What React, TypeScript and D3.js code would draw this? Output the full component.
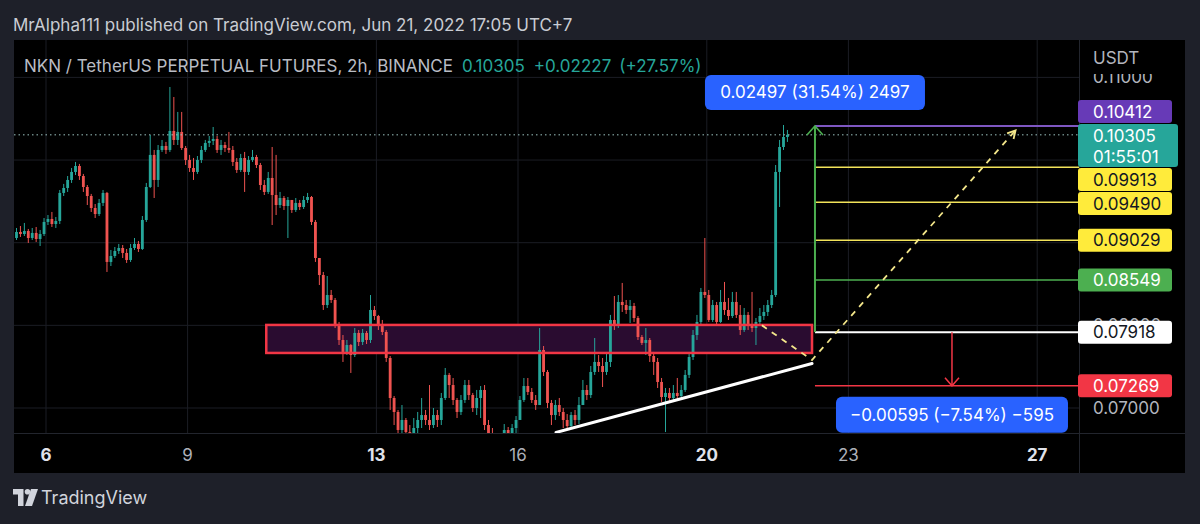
import React from "react";
import * as d3 from "d3";

// ---------------- texts ----------------
const publishLine = "MrAlpha111 published on TradingView.com, Jun 21, 2022 17:05 UTC+7";
const symbolLine = "NKN / TetherUS PERPETUAL FUTURES, 2h, BINANCE";
const quoteValues = ["0.10305", "+0.02227", "(+27.57%)"];
const currency = "USDT";
const countdown = "01:55:01";
const brand = "TradingView";

// ---------------- candles (2h bars, UTC+7 wall time) ----------------
const firstBarTime = "2022-06-05 09:00";
const barHours = 2;
const firstOpen = 0.09057;
const closes = [
  0.0913, 0.09105, 0.09142, 0.09057, 0.09118, 0.09045, 0.09105, 0.09251, 0.09287, 0.09226,
  0.09263, 0.09602, 0.09662, 0.09759, 0.09856, 0.09928, 0.09807, 0.09674, 0.09565, 0.0942,
  0.09347, 0.09481, 0.09602, 0.08767, 0.08839, 0.089, 0.08936, 0.08876, 0.08791, 0.08936,
  0.08985, 0.08924, 0.09275, 0.09674, 0.10062, 0.09759, 0.10122, 0.1017, 0.10122, 0.10352,
  0.10243, 0.1034, 0.10146, 0.10001, 0.09904, 0.09856, 0.10001, 0.10122, 0.10207, 0.10231,
  0.10255, 0.10122, 0.10182, 0.10146, 0.10122, 0.09977, 0.0988, 0.10025, 0.09856, 0.10001,
  0.10037, 0.0994, 0.09698, 0.09614, 0.09783, 0.09577, 0.09456, 0.09541, 0.09444, 0.09517,
  0.09396, 0.09481, 0.09432, 0.09517, 0.09553, 0.09251, 0.08815, 0.08609, 0.08246, 0.08367,
  0.08307, 0.08005, 0.07823, 0.07678, 0.07762, 0.07641, 0.07908, 0.07799, 0.07908, 0.07823,
  0.08186, 0.08113, 0.08005, 0.0792, 0.07605, 0.07121, 0.06952, 0.06734, 0.06855, 0.06709,
  0.06613, 0.06758, 0.06855, 0.06915, 0.06855, 0.06794, 0.06915, 0.06855, 0.07121, 0.074,
  0.07278, 0.07097, 0.06952, 0.07097, 0.07278, 0.07157, 0.07, 0.07121, 0.07218, 0.06794,
  0.06673, 0.06613, 0.06552, 0.06613, 0.06734, 0.06673, 0.06758, 0.06855, 0.07097, 0.07266,
  0.07194, 0.07097, 0.07036, 0.07702, 0.07436, 0.07061, 0.06915, 0.07036, 0.06952, 0.06855,
  0.06782, 0.06915, 0.06855, 0.07036, 0.07218, 0.07157, 0.07436, 0.07557, 0.07508, 0.07436,
  0.07557, 0.08065, 0.07992, 0.08283, 0.08246, 0.08186, 0.08234, 0.08089, 0.07859, 0.07787,
  0.07823, 0.07629, 0.07557, 0.07315, 0.07133, 0.07182, 0.07121, 0.07182, 0.07145, 0.07218,
  0.074, 0.07617, 0.07883, 0.08041, 0.08404, 0.08367, 0.08065, 0.08246, 0.08041, 0.08283,
  0.08186, 0.08113, 0.08283, 0.08126, 0.07944, 0.08126, 0.08005, 0.07968, 0.08041, 0.08113,
  0.08162, 0.08246, 0.08367, 0.09856, 0.10158, 0.10279, 0.10305,
];
const highs = [
  0.09178, 0.09202, 0.09239, 0.09166, 0.09178, 0.0919, 0.09154, 0.09299, 0.09335, 0.09372,
  0.09311, 0.09638, 0.09711, 0.09807, 0.09904, 0.09977, 0.09953, 0.09832, 0.09698, 0.0959,
  0.09468, 0.09529, 0.09638, 0.09614, 0.08912, 0.08948, 0.08985, 0.08972, 0.08924, 0.08985,
  0.09057, 0.09021, 0.09323, 0.09723, 0.10303, 0.10122, 0.10182, 0.10243, 0.10219, 0.10884,
  0.10763, 0.10582, 0.10582, 0.1017, 0.10062, 0.10025, 0.10049, 0.1017, 0.10243, 0.10291,
  0.104, 0.10291, 0.10243, 0.10219, 0.1034, 0.1017, 0.10025, 0.10074, 0.10098, 0.10049,
  0.10122, 0.10062, 0.09965, 0.09759, 0.09856, 0.10158, 0.10062, 0.09614, 0.09565, 0.09553,
  0.09517, 0.09541, 0.09517, 0.09565, 0.09602, 0.09565, 0.09275, 0.08815, 0.08646, 0.08597,
  0.08428, 0.08331, 0.08041, 0.07883, 0.07823, 0.07774, 0.07968, 0.07944, 0.07956, 0.07932,
  0.08367, 0.08234, 0.08126, 0.08065, 0.07944, 0.07629, 0.07145, 0.06976, 0.07036, 0.06879,
  0.06794, 0.06879, 0.06952, 0.07121, 0.06976, 0.07278, 0.07, 0.06976, 0.07182, 0.07484,
  0.07424, 0.07363, 0.07121, 0.07157, 0.07339, 0.07339, 0.07182, 0.07218, 0.07266, 0.07278,
  0.06855, 0.06758, 0.06661, 0.06685, 0.06806, 0.0677, 0.06806, 0.06903, 0.07145, 0.07363,
  0.07363, 0.07242, 0.07157, 0.07968, 0.0775, 0.0746, 0.07097, 0.07097, 0.07121, 0.07,
  0.06927, 0.06952, 0.06976, 0.07133, 0.07339, 0.07278, 0.07508, 0.07847, 0.07641, 0.07605,
  0.07678, 0.08126, 0.08355, 0.08367, 0.08513, 0.08307, 0.08307, 0.08271, 0.08113, 0.07883,
  0.07968, 0.07847, 0.07678, 0.07605, 0.07363, 0.07242, 0.07242, 0.07278, 0.07363, 0.07278,
  0.0746, 0.07678, 0.07944, 0.08126, 0.08452, 0.09057, 0.08428, 0.08307, 0.08283, 0.08428,
  0.08525, 0.08331, 0.08404, 0.08404, 0.08246, 0.0821, 0.08162, 0.08404, 0.08089, 0.0821,
  0.08246, 0.08307, 0.08428, 0.0994, 0.10243, 0.10424, 0.10364,
];
const lows = [
  0.09033, 0.09069, 0.09081, 0.08997, 0.09033, 0.09009, 0.0896, 0.09081, 0.09214, 0.0919,
  0.09178, 0.09226, 0.09565, 0.09614, 0.09723, 0.09819, 0.09759, 0.09614, 0.09456, 0.09372,
  0.09299, 0.09323, 0.09444, 0.08646, 0.08718, 0.08815, 0.08864, 0.08815, 0.08755, 0.08767,
  0.08912, 0.08888, 0.08912, 0.09251, 0.09662, 0.09541, 0.09674, 0.10098, 0.10074, 0.10098,
  0.10182, 0.10182, 0.10122, 0.0994, 0.09856, 0.09759, 0.09832, 0.09965, 0.10098, 0.10158,
  0.10182, 0.10086, 0.10062, 0.10098, 0.10086, 0.09928, 0.09844, 0.09856, 0.09614, 0.09819,
  0.09977, 0.09904, 0.09638, 0.09577, 0.0959, 0.09214, 0.09335, 0.0942, 0.09396, 0.09057,
  0.0936, 0.09372, 0.09396, 0.09408, 0.09481, 0.09214, 0.08767, 0.08488, 0.08186, 0.0821,
  0.08271, 0.07968, 0.07762, 0.07557, 0.07641, 0.07424, 0.07617, 0.0775, 0.07762, 0.07774,
  0.07787, 0.08065, 0.07944, 0.07883, 0.07557, 0.06976, 0.06794, 0.06613, 0.06613, 0.06552,
  0.06492, 0.06552, 0.06673, 0.06758, 0.06794, 0.06734, 0.06758, 0.0677, 0.06794, 0.07097,
  0.07121, 0.07036, 0.06879, 0.06915, 0.07061, 0.07097, 0.06952, 0.06915, 0.06879, 0.06734,
  0.06552, 0.06492, 0.06431, 0.06431, 0.06552, 0.06552, 0.06613, 0.06673, 0.06855, 0.07073,
  0.07157, 0.07061, 0.06976, 0.07036, 0.07387, 0.07, 0.06794, 0.06855, 0.06903, 0.06758,
  0.06734, 0.06758, 0.06794, 0.06806, 0.07073, 0.07097, 0.07121, 0.074, 0.07436, 0.07254,
  0.074, 0.07496, 0.07944, 0.07968, 0.08162, 0.08138, 0.08029, 0.08041, 0.07823, 0.07762,
  0.07641, 0.07557, 0.074, 0.07242, 0.07073, 0.06709, 0.07073, 0.07097, 0.07097, 0.07121,
  0.07194, 0.07363, 0.07581, 0.07823, 0.08005, 0.08331, 0.08041, 0.08041, 0.08005, 0.08029,
  0.08126, 0.08065, 0.08089, 0.08089, 0.07883, 0.0792, 0.07944, 0.0792, 0.07762, 0.08005,
  0.08065, 0.08113, 0.0821, 0.08343, 0.09432, 0.10122, 0.10219,
];

// ---------------- axes ----------------
const dayTicks = ["2022-06-06", "2022-06-09", "2022-06-13", "2022-06-16", "2022-06-20", "2022-06-23", "2022-06-27"];
const weekStartTicks = ["2022-06-06", "2022-06-13", "2022-06-20", "2022-06-27"];
const priceTicks = [0.07, 0.08, 0.09, 0.1, 0.11];

// ---------------- drawings ----------------
const lastPrice = 0.10305;
const entryPrice = 0.07918;
const stopPrice = 0.07269;
const targetPrice = 0.10412;
const yellowTargets = [0.09913, 0.0949, 0.09029];
const greenTarget = 0.08549;
const toolStart = "2022-06-22 07:00";
const toolEnd = "2022-06-28 02:20";
const profitText = "0.02497 (31.54%) 2497";
const lossText = "\u22120.00595 (\u22127.54%) \u2212595";

const zoneTop = 0.08005;
const zoneBottom = 0.07666;
const zoneStart = "2022-06-10 16:00";
const zoneEnd = "2022-06-22 05:30";

const trendTimes = ["2022-06-16 19:20", "2022-06-22 05:30"];
const trendPrices = [0.06704, 0.07539];

const pathTimes = ["2022-06-21 04:00", "2022-06-22 05:30", "2022-06-26 13:00"];
const pathPrices = [0.08, 0.07581, 0.1036];

const FONT = "Inter, 'Noto Sans', sans-serif";
const UP = "#26a69a";
const DOWN = "#ef5350";

export default function App() {
  const W = 1200;
  const H = 524;
  const plot = { left: 14, right: 1079, top: 40, bottom: 433 };
  const panel = { left: 14, right: 1185, top: 40, bottom: 473 };

  const parseT = d3.utcParse("%Y-%m-%d %H:%M");
  const parseD = d3.utcParse("%Y-%m-%d");
  const t0 = parseT(firstBarTime) as Date;

  const x = d3
    .scaleUtc()
    .domain([parseD(dayTicks[0]) as Date, parseD(dayTicks[dayTicks.length - 1]) as Date])
    .range([46, 1037.2]);
  const y = d3.scaleLinear().domain([0.07, 0.11]).range([408, 77.4]);
  const fmt = d3.format(".5f");

  const bars = closes.map((c, i) => ({
    t: d3.utcHour.offset(t0, i * barHours),
    o: i === 0 ? firstOpen : closes[i - 1],
    h: highs[i],
    l: lows[i],
    c,
  }));
  const step = x(d3.utcHour.offset(t0, barHours)) - x(t0);
  const bodyW = step * 0.72;

  const tx = (s: string) => x(parseT(s) as Date);
  const xs = tx(toolStart);
  const xe = tx(toolEnd);
  const xMid = (xs + xe) / 2;

  const line = d3.line<[number, number]>().x((d) => d[0]).y((d) => d[1]);
  const trendPts: [number, number][] = trendTimes.map((t, i) => [tx(t), y(trendPrices[i])]);
  const pathPts: [number, number][] = pathTimes.map((t, i) => [tx(t), y(pathPrices[i])]);

  const pA = pathPts[pathPts.length - 2];
  const pB = pathPts[pathPts.length - 1];
  const ang = Math.atan2(pB[1] - pA[1], pB[0] - pA[0]);
  const headLen = 9;
  const head1: [number, number] = [pB[0] - headLen * Math.cos(ang - 0.5), pB[1] - headLen * Math.sin(ang - 0.5)];
  const head2: [number, number] = [pB[0] - headLen * Math.cos(ang + 0.5), pB[1] - headLen * Math.sin(ang + 0.5)];

  // ---- price-axis labels with collision layout ----
  type Lab = { price: number; lines: string[]; bg: string; fg: string; w: number; h: number; cy: number; top?: number };
  const labs: Lab[] = [
    { price: targetPrice, lines: [fmt(targetPrice)], bg: "#673ab7", fg: "#ffffff", w: 94, h: 24, cy: 0 },
    { price: lastPrice, lines: [fmt(lastPrice), countdown], bg: "#26a69a", fg: "#ffffff", w: 100, h: 44, cy: 0 },
    ...yellowTargets.map((p) => ({ price: p, lines: [fmt(p)], bg: "#ffeb3b", fg: "#131722", w: 94, h: 24, cy: 0 })),
    { price: greenTarget, lines: [fmt(greenTarget)], bg: "#4caf50", fg: "#ffffff", w: 94, h: 24, cy: 0 },
    { price: entryPrice, lines: [fmt(entryPrice)], bg: "#ffffff", fg: "#131722", w: 94, h: 24, cy: 0 },
    { price: stopPrice, lines: [fmt(stopPrice)], bg: "#f23645", fg: "#ffffff", w: 94, h: 24, cy: 0 },
  ];
  labs.forEach((l) => (l.cy = y(l.price) + (l.h - 24) / 2));
  labs.sort((a, b) => a.cy - b.cy);
  type Cl = { items: Lab[]; top: number; height: number };
  const clusters: Cl[] = [];
  for (const it of labs) {
    let c: Cl = { items: [it], top: it.cy - it.h / 2, height: it.h };
    while (clusters.length) {
      const prev = clusters[clusters.length - 1];
      if (prev.top + prev.height > c.top) {
        clusters.pop();
        const its = [...prev.items, ...c.items];
        let off = 0;
        let sum = 0;
        for (const k of its) {
          sum += k.cy - k.h / 2 - off;
          off += k.h;
        }
        c = { items: its, top: sum / its.length, height: off };
      } else break;
    }
    clusters.push(c);
  }
  clusters.forEach((c) => {
    let off = 0;
    c.items.forEach((k) => {
      k.top = c.top + off;
      off += k.h;
    });
  });
  // tick labels entirely hidden behind a price label are not drawn (as on TradingView)
  const visibleTicks = priceTicks.filter(
    (p) => !labs.some((l) => (l.top as number) <= y(p) - 7 && (l.top as number) + l.h >= y(p) + 7)
  );

  const gridColor = "#1b1d24";

  return (
    <svg
      width={W}
      height={H}
      viewBox={`0 0 ${W} ${H}`}
      style={{ position: "fixed", left: 0, top: 0, display: "block" }}
      fontFamily={FONT}
    >
      <defs>
        <clipPath id="plotClip">
          <rect x={plot.left} y={plot.top} width={plot.right - plot.left} height={plot.bottom - plot.top} />
        </clipPath>
      </defs>
      <rect x={0} y={0} width={W} height={H} fill="#1e2029" />
      <text x={13} y={25} fill="#c9ccd3" fontSize={17} dominantBaseline="central">
        {publishLine}
      </text>

      <rect x={panel.left} y={panel.top} width={panel.right - panel.left} height={panel.bottom - panel.top} fill="#000000" />

      {/* grid */}
      <g>
        {dayTicks.map((d) => (
          <line key={d} x1={x(parseD(d) as Date)} x2={x(parseD(d) as Date)} y1={plot.top} y2={plot.bottom} stroke={gridColor} strokeWidth={1} />
        ))}
        {priceTicks.map((p) => (
          <line key={p} x1={plot.left} x2={plot.right} y1={y(p)} y2={y(p)} stroke={gridColor} strokeWidth={1} />
        ))}
      </g>

      <g clipPath="url(#plotClip)">
        <rect
          x={tx(zoneStart)}
          y={y(zoneTop)}
          width={tx(zoneEnd) - tx(zoneStart)}
          height={y(zoneBottom) - y(zoneTop)}
          fill="#2a0c30"
        />

        {bars.map((b, i) => {
          const cx = x(b.t);
          const up = b.c >= b.o;
          const col = up ? UP : DOWN;
          const yt = y(Math.max(b.o, b.c));
          const yb = y(Math.min(b.o, b.c));
          return (
            <g key={i}>
              <line x1={cx} x2={cx} y1={y(b.h)} y2={y(b.l)} stroke={col} strokeWidth={1} />
              <rect x={cx - bodyW / 2} y={yt} width={bodyW} height={Math.max(1, yb - yt)} fill={col} />
            </g>
          );
        })}

        <rect
          x={tx(zoneStart)}
          y={y(zoneTop)}
          width={tx(zoneEnd) - tx(zoneStart)}
          height={y(zoneBottom) - y(zoneTop)}
          fill="none"
          stroke="#f23645"
          strokeWidth={2.5}
        />

        <line x1={plot.left} x2={plot.right} y1={y(lastPrice)} y2={y(lastPrice)} stroke="#9cc4c0" strokeWidth={1} strokeDasharray="1.5,3" />

        <path d={line(trendPts) || ""} stroke="#ffffff" strokeWidth={3} fill="none" strokeLinecap="round" />

        <line x1={xs} x2={xe} y1={y(targetPrice)} y2={y(targetPrice)} stroke="#7e57c2" strokeWidth={2} />
        {yellowTargets.map((p) => (
          <line key={p} x1={xs} x2={xe} y1={y(p)} y2={y(p)} stroke="#f2e35a" strokeWidth={1.5} />
        ))}
        <line x1={xs} x2={xe} y1={y(greenTarget)} y2={y(greenTarget)} stroke="#4caf50" strokeWidth={1.5} />
        <line x1={xs} x2={xe} y1={y(entryPrice)} y2={y(entryPrice)} stroke="#ffffff" strokeWidth={2} />
        <line x1={xs} x2={xe} y1={y(stopPrice)} y2={y(stopPrice)} stroke="#f23645" strokeWidth={1.5} />

        <line x1={xs} x2={xs} y1={y(entryPrice)} y2={y(targetPrice)} stroke="#4caf50" strokeWidth={2} />
        <path
          d={`M${xs - 8},${y(targetPrice) + 9} L${xs},${y(targetPrice)} L${xs + 8},${y(targetPrice) + 9}`}
          stroke="#4caf50"
          strokeWidth={1.6}
          fill="none"
        />
        <line x1={xMid} x2={xMid} y1={y(entryPrice)} y2={y(stopPrice)} stroke="#f23645" strokeWidth={1.5} />
        <path
          d={`M${xMid - 7},${y(stopPrice) - 8} L${xMid},${y(stopPrice)} L${xMid + 7},${y(stopPrice) - 8}`}
          stroke="#f23645"
          strokeWidth={1.5}
          fill="none"
        />

        <path d={line(pathPts) || ""} stroke="#f3e68a" strokeWidth={1.8} fill="none" strokeDasharray="6,6" />
        <path d={line([head1, pB, head2]) || ""} stroke="#f3e68a" strokeWidth={1.8} fill="none" />

        <g>
          <rect x={xs - 110} y={y(targetPrice) - 51} width={220} height={35} rx={6} fill="#2962ff" />
          <text x={xs} y={y(targetPrice) - 33.5} fill="#ffffff" fontSize={17} textAnchor="middle" dominantBaseline="central">
            {profitText}
          </text>
          <rect x={xMid - 116} y={y(stopPrice) + 11} width={232} height={36} rx={6} fill="#2962ff" />
          <text x={xMid} y={y(stopPrice) + 29} fill="#ffffff" fontSize={17} textAnchor="middle" dominantBaseline="central">
            {lossText}
          </text>
        </g>
      </g>

      <line x1={plot.right + 0.5} x2={plot.right + 0.5} y1={panel.top} y2={panel.bottom} stroke="#22252d" strokeWidth={1} />
      <line x1={panel.left} x2={panel.right} y1={plot.bottom + 0.5} y2={plot.bottom + 0.5} stroke="#22252d" strokeWidth={1} />

      <text x={24} y={66} fontSize={17} dominantBaseline="central" fill="#b9bcc4">
        {symbolLine}
        <tspan dx={9} fill="#26a69a">{quoteValues[0]}</tspan>
        <tspan dx={9} fill="#26a69a">{quoteValues[1]}</tspan>
        <tspan dx={8} fill="#26a69a">{quoteValues[2]}</tspan>
      </text>

      {visibleTicks.map((p) => (
        <text key={p} x={1093} y={y(p)} fill="#b2b5be" fontSize={17} dominantBaseline="central">
          {fmt(p)}
        </text>
      ))}
      <rect x={plot.right + 1} y={panel.top} width={panel.right - plot.right - 1} height={34} fill="#000000" />
      <text x={1093} y={58} fill="#b2b5be" fontSize={17} dominantBaseline="central">
        {currency}
      </text>

      {labs.map((l, i) => (
        <g key={i}>
          <rect x={1078} y={(l.top as number) + 0.5} width={l.w} height={l.h - 1} rx={3} fill={l.bg} />
          {l.lines.map((s, j) => (
            <text
              key={j}
              x={1093}
              y={(l.top as number) + 12 + j * 21}
              fill={l.fg}
              fontSize={17}
              dominantBaseline="central"
            >
              {s}
            </text>
          ))}
        </g>
      ))}

      {dayTicks.map((d) => {
        const bold = weekStartTicks.includes(d);
        return (
          <text
            key={d}
            x={x(parseD(d) as Date)}
            y={455}
            fill={bold ? "#e0e3eb" : "#aeb1b9"}
            fontSize={17}
            fontWeight={bold ? 700 : 400}
            textAnchor="middle"
            dominantBaseline="central"
          >
            {d3.utcFormat("%-d")(parseD(d) as Date)}
          </text>
        );
      })}

      <g fill="#d1d4dc">
        <path d="M13,489 H23.5 V506 H18 V494.5 H13 Z" />
        <circle cx={27.5} cy={491.8} r={2.8} />
        <path d="M31,489 H38 L32,506 H25 Z" />
        <text x={41} y={497.5} fontSize={18} dominantBaseline="central">
          {brand}
        </text>
      </g>
    </svg>
  );
}
